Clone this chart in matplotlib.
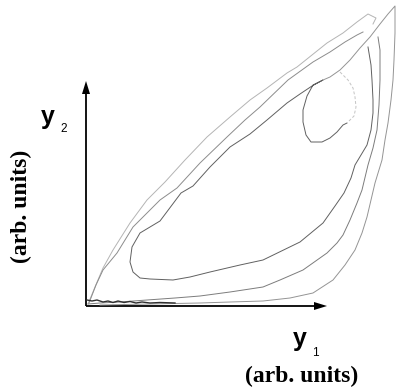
import matplotlib
matplotlib.use("Agg")
import matplotlib.pyplot as plt

# Phase-plane trajectories (y1, y2) in arbitrary units
outer_y1 = [2, 9, 17, 27, 44, 61, 79, 99, 121, 144, 164, 181, 201, 211, 226, 241, 257, 271, 282, 290, 287]
outer_y2 = [2, 19, 38, 56, 83, 106, 124, 146, 169, 189, 206, 218, 233, 239, 251, 263, 273, 284, 292, 288, 282]

second_y1 = [3, 10, 17, 31, 47, 61, 74, 91, 114, 141, 159, 174, 202, 227, 244, 259, 271, 277]
second_y2 = [3, 21, 36, 53, 79, 93, 106, 118, 143, 169, 186, 199, 226, 244, 254, 264, 271, 274]

inner_y1 = [282, 285, 286, 287, 287, 285, 281, 275, 269, 265, 258, 249, 237, 214, 177, 154, 124, 104,
            87, 64, 54, 47, 44, 46, 54, 74, 86, 95, 107, 124, 144, 164, 181, 201, 214, 226, 237,
            227, 221, 217, 217, 220, 225, 236, 244, 251, 257, 261]
inner_y2 = [259, 241, 226, 206, 193, 176, 161, 151, 141, 128, 113, 100, 83, 64, 46, 41, 34, 29,
            26, 27, 28, 34, 44, 59, 73, 85, 101, 113, 120, 139, 159, 172, 186, 203, 212, 220, 226,
            221, 210, 196, 184, 171, 164, 164, 168, 174, 181, 183]

faint_y1 = [254, 262, 267, 269, 270, 268, 263]
faint_y2 = [234, 226, 218, 209, 199, 190, 185]

diag_y1 = [237, 244, 254, 264, 274, 284, 294, 302, 309, 309, 308, 307, 305, 302, 299, 296, 289, 281,
           276, 269, 259, 247, 227, 204, 177, 144, 114, 64, 14]
diag_y2 = [226, 229, 236, 246, 258, 269, 282, 292, 300, 273, 246, 226, 206, 183, 166, 146, 123, 89,
           73, 56, 41, 26, 13, 8, 5, 4, 3, 2, 1]

mid_y1 = [292, 294, 294, 293, 291, 287, 282, 276, 271, 264, 257, 251, 241, 217, 194, 177, 144, 114, 89, 61, 34, 14, 2]
mid_y2 = [269, 256, 226, 201, 176, 158, 141, 116, 103, 86, 71, 63, 53, 36, 26, 19, 14, 10, 8, 6, 4, 3, 2]

wavy_y1 = [1, 6, 11, 17, 22, 27, 32, 38, 44, 50, 56, 64, 74, 89]
wavy_y2 = [6, 5, 6, 4, 5, 3.5, 5, 3.5, 4.5, 3, 4, 3, 3.5, 3]

fig = plt.figure(figsize=(3.96, 3.89), dpi=100)
ax = fig.add_axes([0, 0, 1, 1])
ax.set_xlim(-86, 310)
ax.set_ylim(-83, 306)
ax.axis("off")

ax.plot(outer_y1, outer_y2, color="#b4b4b4", lw=0.7)
ax.plot(second_y1, second_y2, color="#8c8c8c", lw=0.7)
ax.plot(inner_y1, inner_y2, color="#606060", lw=0.7)
ax.plot(faint_y1, faint_y2, color="#c4c4c4", lw=0.7, ls=(0, (3, 2)))
ax.plot(diag_y1, diag_y2, color="#949494", lw=0.7)
ax.plot(mid_y1, mid_y2, color="#7c7c7c", lw=0.7)
ax.plot(wavy_y1, wavy_y2, color="#303030", lw=1.0)

# axes arrows
ax.arrow(0, 0, 241, 0, width=1.8, head_width=8, head_length=13,
         length_includes_head=True, color="black", lw=0)
ax.arrow(0, 0, 0, 225, width=1.8, head_width=8, head_length=13,
         length_includes_head=True, color="black", lw=0)

sans = ["Liberation Sans", "DejaVu Sans"]
serif = ["Liberation Serif", "DejaVu Serif"]
ax.text(-38.5, 189, "y", fontsize=18, fontweight="bold", family=sans, ha="center", va="center")
ax.text(-22.5, 177, "2", fontsize=8.5, family=sans, ha="center", va="center")
ax.text(214, -33, "y", fontsize=18, fontweight="bold", family=sans, ha="center", va="center")
ax.text(229.5, -47.5, "1", fontsize=8.5, family=sans, ha="center", va="center")
ax.text(216, -70, "(arb. units)", fontsize=17, fontweight="bold", family=serif, ha="center", va="center")
ax.text(-65, 100, "(arb. units)", fontsize=17, fontweight="bold", family=serif, ha="center",
        va="center", rotation=90)

fig.savefig("out.png", dpi=100)
